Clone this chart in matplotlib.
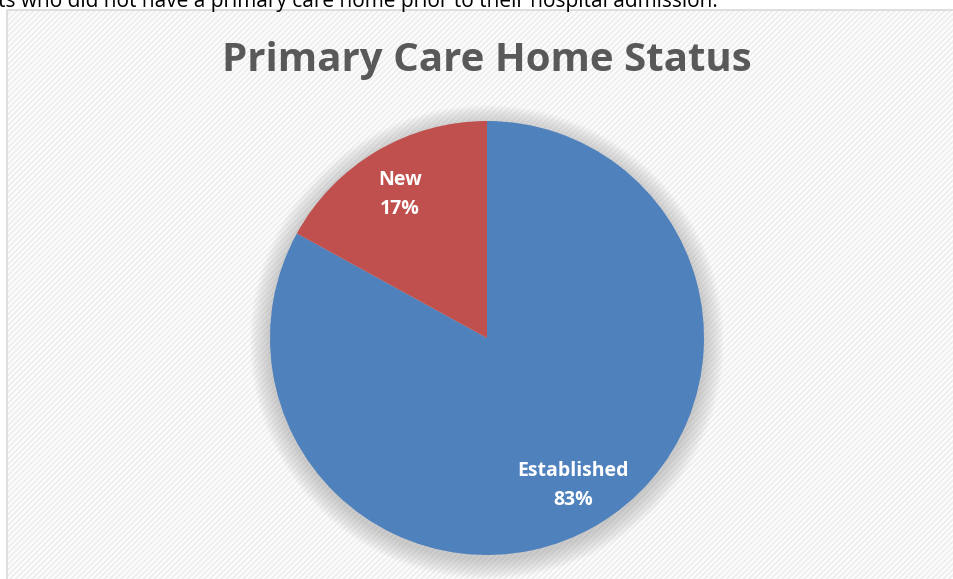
import matplotlib.pyplot as plt
from matplotlib.patches import Rectangle, Circle

# Data
labels = ['Established', 'New']
shares = [83, 17]
colors = ['#4F81BD', '#C0504D']
title = 'Primary Care Home Status'
caption = 'ts who did not have a primary care home prior to their hospital admission.'

W, H = 954, 579
fig = plt.figure(figsize=(W / 100, H / 100), dpi=100)
fig.patch.set_facecolor('white')

# chart frame with light diagonal pattern
bg = fig.add_axes([0, 0, 1, 1])
bg.set_xlim(0, W)
bg.set_ylim(H, 0)
bg.axis('off')
plt.rcParams['hatch.linewidth'] = 1.6
bg.add_patch(Rectangle((7, 10), W, H, facecolor='white', edgecolor='#EFEFEF',
                       linewidth=0, hatch='//////'))
bg.add_patch(Rectangle((7, 10), W, H, facecolor='none', edgecolor='#D9D9D9', linewidth=1.2))

# cut-off line of document text above the chart
bg.text(-2, 2, caption, fontsize=15, family='Open Sans', color='black', va='center', ha='left')

# soft shadow behind the pie
cx, cy, r = 487, 338, 217
for i in range(20):
    bg.add_patch(Circle((cx, cy + 4), r + 20 - i, facecolor='#808080', alpha=0.018, edgecolor='none'))

bg.text(487, 60, title, fontsize=29, fontweight='bold', family='Open Sans',
        color='#595959', ha='center', va='center')

# pie
ax = fig.add_axes([(cx - r) / W, 1 - (cy + r) / H, 2 * r / W, 2 * r / H])
wedges, _ = ax.pie(shares, colors=colors, startangle=90, counterclock=False,
                   wedgeprops=dict(linewidth=0))
ax.set_xlim(-1, 1)
ax.set_ylim(-1, 1)
ax.set_aspect('equal')
ax.axis('off')

pos = {'New': (400, 195), 'Established': (573, 486)}
for lab, val in zip(labels, shares):
    x, y = pos[lab]
    ax.text((x - cx) / r, (cy - y) / r, f'{lab}\n{val}%', fontsize=14, fontweight='bold',
            family='Open Sans', color='white', ha='center', va='center', linespacing=1.6)

fig.savefig('out.png', dpi=100)
